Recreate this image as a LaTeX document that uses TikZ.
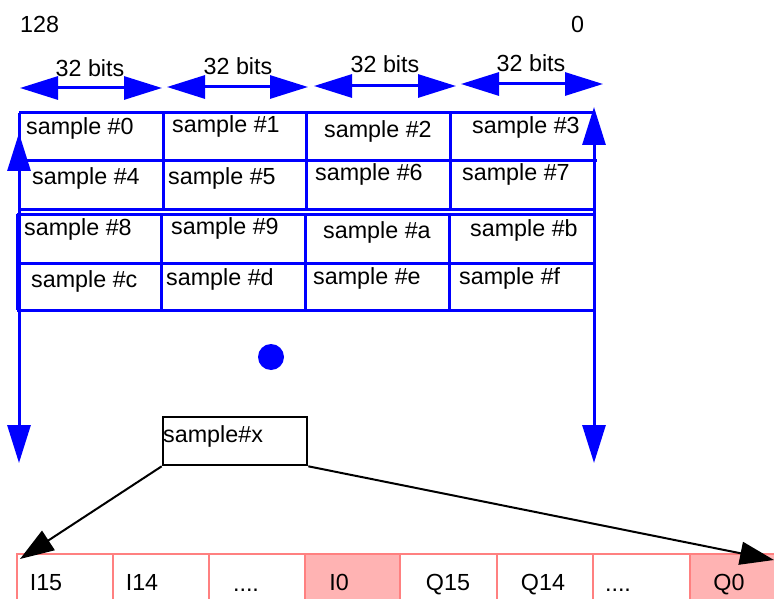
\documentclass[tikz,border=0pt]{standalone}
\usepackage{fontspec}
\setmainfont{Liberation Sans}
\usetikzlibrary{arrows.meta}
\definecolor{pinkline}{HTML}{FF8080}
\definecolor{pinkfill}{HTML}{FFB3B3}
\begin{document}
\begin{tikzpicture}[x=1pt,y=-1pt,
  font=\fontsize{23.3}{27}\selectfont,
  txt/.style={inner sep=0pt,anchor=base west},
  ctxt/.style={inner sep=0pt,anchor=base},
  bluearrow/.style={draw=blue,line width=3pt,{Triangle[length=38pt,width=23pt]}-{Triangle[length=38pt,width=23pt]}},
  gridline/.style={draw=blue,line width=3pt},
  blackarrow/.style={draw=black,line width=2pt,-{Triangle[length=34pt,width=23pt]}},
  pinkcell/.style={draw=pinkline,line width=2pt,inner sep=0pt},
  hot/.style={pinkcell,fill=pinkfill},
]
\clip (0,0) rectangle (774,599);
\useasboundingbox (0,0) rectangle (774,599);

% bit positions
\node[txt] (n128) at (20,33) {128};
\node[txt] (n0) at (571,33) {0};

% 32 bits arrows
\coordinate (a1l) at (20,88);  \coordinate (a1r) at (162,88);
\coordinate (a2l) at (167,87); \coordinate (a2r) at (308,87);
\coordinate (a3l) at (314,86); \coordinate (a3r) at (456,86);
\coordinate (a4l) at (461,84); \coordinate (a4r) at (603,84);
\draw[bluearrow] (a1l) -- (a1r);
\draw[bluearrow] (a2l) -- (a2r);
\draw[bluearrow] (a3l) -- (a3r);
\draw[bluearrow] (a4l) -- (a4r);
\node[ctxt] (b1) at (90,77) {32 bits};
\node[ctxt] (b2) at (238,75) {32 bits};
\node[ctxt] (b3) at (385,73) {32 bits};
\node[ctxt] (b4) at (531,72) {32 bits};

% top block grid
\draw[gridline] (19,113) -- (593,113);
\draw[gridline] (19,161) -- (597,161);
\draw[gridline] (19,209) -- (593,209);
\draw[gridline] (19,113) -- (19,209);
\draw[gridline] (163,113) -- (163,209);
\draw[gridline] (306,113) -- (306,209);
\draw[gridline] (450,113) -- (450,209);
% second block grid
\draw[gridline] (17,214) -- (593,214);
\draw[gridline] (17,263) -- (593,263);
\draw[gridline] (17,310) -- (593,310);
\draw[gridline] (17,214) -- (17,310);
\draw[gridline] (161,214) -- (161,310);
\draw[gridline] (305,214) -- (305,310);
\draw[gridline] (449,214) -- (449,310);

% vertical arrows
\coordinate (lt) at (19,133); \coordinate (lb) at (19,463);
\coordinate (rt) at (594,107); \coordinate (rb) at (594,463);
\draw[bluearrow] (lt) -- (lb);
\draw[bluearrow] (rt) -- (rb);

% sample labels
\node[txt] (s0) at (26,135) {sample \#0};
\node[txt] (s1) at (172,133) {sample \#1};
\node[txt] (s2) at (324,138) {sample \#2};
\node[txt] (s3) at (472,134) {sample \#3};
\node[txt] (s4) at (32,185) {sample \#4};
\node[txt] (s5) at (168,184) {sample \#5};
\node[txt] (s6) at (315,181) {sample \#6};
\node[txt] (s7) at (462,180) {sample \#7};
\node[txt] (s8) at (24,235) {sample \#8};
\node[txt] (s9) at (171,234) {sample \#9};
\node[txt] (sa) at (323,238) {sample \#a};
\node[txt] (sb) at (470,236) {sample \#b};
\node[txt] (sc) at (31,287) {sample \#c};
\node[txt] (sd) at (166,285) {sample \#d};
\node[txt] (se) at (313,284) {sample \#e};
\node[txt] (sf) at (459,284) {sample \#f};

% dot
\node[circle,fill=blue,minimum size=26pt,inner sep=0pt] (dot) at (271,357) {};

% sample#x box
\node[draw=black,line width=2.6pt,minimum width=144pt,minimum height=48pt,inner sep=0pt] (sx) at (235,441) {};
\node[txt] (sxt) at (163,442) {sample\#x};

% bottom row
\node[pinkcell,minimum width=96pt,minimum height=70pt] (c1) at (65,589) {};
\node[pinkcell,minimum width=96pt,minimum height=70pt] (c2) at (161,589) {};
\node[pinkcell,minimum width=96pt,minimum height=70pt] (c3) at (257,589) {};
\node[hot,minimum width=95pt,minimum height=70pt] (c4) at (352.5,589) {};
\node[pinkcell,minimum width=97pt,minimum height=70pt] (c5) at (448.5,589) {};
\node[pinkcell,minimum width=96pt,minimum height=70pt] (c6) at (545,589) {};
\node[pinkcell,minimum width=97pt,minimum height=70pt] (c7) at (641.5,589) {};
\node[hot,minimum width=100pt,minimum height=70pt] (c8) at (740,589) {};
\node[ctxt] (t1) at (46,590) {I15};
\node[ctxt] (t2) at (142,590) {I14};
\node[ctxt] (t3) at (246,591) {....};
\node[ctxt] (t4) at (339,590) {I0};
\node[ctxt] (t5) at (448,590) {Q15};
\node[ctxt] (t6) at (543,590) {Q14};
\node[ctxt] (t7) at (618,591) {....};
\node[ctxt] (t8) at (729,590) {Q0};

% black arrows
\coordinate (tipl) at (20,559);
\coordinate (tipr) at (774,560);
\draw[blackarrow] (sx.south west) -- (tipl);
\draw[blackarrow] (sx.south east) -- (tipr);
\end{tikzpicture}
\end{document}
